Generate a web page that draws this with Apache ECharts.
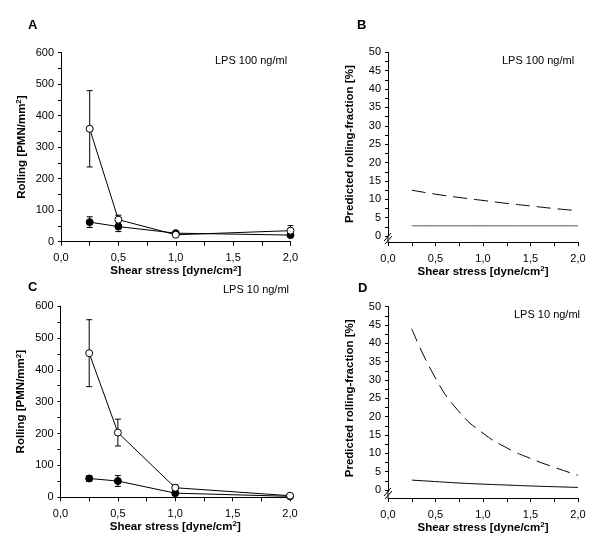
<!DOCTYPE html>
<html>
<head>
<meta charset="utf-8">
<script src="https://cdn.jsdelivr.net/npm/echarts@6/dist/echarts.min.js"></script>
<style>html,body{margin:0;padding:0;background:#fff}#c{width:600px;height:550px}</style>
</head>
<body>
<div id="c"></div>
<script>
// ---- data ----
var shear = [0.25, 0.5, 1.0, 2.0];
var A_open = [358, 70, 22, 35];
var A_openErr = [121, 14, 5, 16];
var A_filled = [62, 48, 27, 21];
var A_filledErr = [17, 16, 4, 4];
var C_open = [452, 203, 30, 5];
var C_openErr = [105, 42, 9, 3];
var C_filled = [59, 51, 13, 3];
var C_filledErr = [9, 17, 4, 2];

var predX = [0.25, 0.5, 0.75, 1.0, 1.25, 1.5, 1.75, 2.0];
var B_dash = [12.5, 11.4, 10.5, 9.7, 8.9, 8.2, 7.5, 6.9];
var B_solid = [2.8, 2.8, 2.8, 2.8, 2.8, 2.8, 2.8, 2.8];
var D_dash = [44, 30.5, 21.3, 15.5, 11.5, 8.6, 6.2, 4.0];
var D_solid = [2.7, 2.3, 1.9, 1.6, 1.35, 1.1, 0.9, 0.7];

var panelLetters = ['A', 'B', 'C', 'D'];
var lpsLabels = ['LPS 100 ng/ml', 'LPS 100 ng/ml', 'LPS 10 ng/ml', 'LPS 10 ng/ml'];
var xName = 'Shear stress [dyne/cm{sup|2}]';
var yNameRolling = 'Rolling [PMN/mm{sup|2}]';
var yNamePred = 'Predicted rolling-fraction [%]';

// ---- helpers ----
var FONT = "'Liberation Sans', Arial, sans-serif";
function zip(xs, ys) { return xs.map(function (x, i) { return [x, ys[i]]; }); }
function zip3(xs, ys, es) { return xs.map(function (x, i) { return [x, ys[i], es[i]]; }); }
var rich = { sup: { fontSize: 8, fontWeight: 'bold', verticalAlign: 'top', padding: [0, 0, 5, 0], fontFamily: FONT, color: '#000' } };

function xAxisDef(gi, offset) {
  return {
    type: 'value', gridIndex: gi, min: 0, max: 2, interval: 0.5, offset: offset || 0,
    name: xName, nameLocation: 'middle', nameGap: 22,
    nameTextStyle: { fontFamily: FONT, fontSize: 11.5, fontWeight: 'bold', color: '#000', rich: rich },
    axisLine: { show: true, onZero: false, lineStyle: { color: '#000', width: 1 } },
    axisTick: { show: true, length: 4, lineStyle: { color: '#000' } },
    minorTick: { show: true, splitNumber: 2, length: 4, lineStyle: { color: '#000' } },
    splitLine: { show: false }, minorSplitLine: { show: false },
    axisLabel: { fontFamily: FONT, fontSize: 11, color: '#000', margin: 11,
      formatter: function (v) { return v.toFixed(1).replace('.', ','); } }
  };
}
function yAxisDef(gi, max, interval, name, gap) {
  return {
    type: 'value', gridIndex: gi, min: 0, max: max, interval: interval,
    name: name, nameLocation: 'middle', nameGap: gap,
    nameTextStyle: { fontFamily: FONT, fontSize: 11.5, fontWeight: 'bold', color: '#000', rich: rich },
    axisLine: { show: true, lineStyle: { color: '#000', width: 1 } },
    axisTick: { show: true, length: 3, lineStyle: { color: '#000' } },
    minorTick: { show: true, splitNumber: 2, length: 3, lineStyle: { color: '#000' } },
    splitLine: { show: false }, minorSplitLine: { show: false },
    axisLabel: { fontFamily: FONT, fontSize: 11, color: '#000', margin: 7 }
  };
}
function errSeries(gi, data) {
  return {
    type: 'custom', xAxisIndex: gi, yAxisIndex: gi, z: 1, data: data, silent: true,
    renderItem: function (params, api) {
      var x = api.value(0), m = api.value(1), e = api.value(2);
      var t = api.coord([x, m + e]), b = api.coord([x, m - e]);
      var w = 3, st = { stroke: '#000', lineWidth: 1 };
      return { type: 'group', children: [
        { type: 'line', shape: { x1: t[0], y1: t[1], x2: b[0], y2: b[1] }, style: st },
        { type: 'line', shape: { x1: t[0] - w, y1: t[1], x2: t[0] + w, y2: t[1] }, style: st },
        { type: 'line', shape: { x1: b[0] - w, y1: b[1], x2: b[0] + w, y2: b[1] }, style: st }
      ] };
    }
  };
}
function markSeries(gi, data, open) {
  return {
    type: 'line', xAxisIndex: gi, yAxisIndex: gi, z: 3, data: data,
    symbol: 'circle', symbolSize: 7, showSymbol: true,
    lineStyle: { color: '#000', width: 1 },
    itemStyle: { color: open ? '#fff' : '#000', borderColor: '#000', borderWidth: 1 },
    emphasis: { disabled: true }, animation: false
  };
}
function curveSeries(gi, data, dashed, color) {
  return {
    type: 'line', xAxisIndex: gi, yAxisIndex: gi, data: data, smooth: true,
    symbol: 'none', lineStyle: { color: color || '#000', width: 1, type: dashed ? [14, 7] : 'solid' },
    animation: false
  };
}

var titles = [];
var letterPos = [[28, 19], [357, 19], [28, 281], [358, 282]];
var lpsPos = [[215, 55], [502, 55], [223, 284], [514, 309]];
for (var i = 0; i < 4; i++) {
  titles.push({ text: panelLetters[i], left: letterPos[i][0], top: letterPos[i][1], padding: 0,
    textStyle: { fontFamily: FONT, fontSize: 13, fontWeight: 'bold', color: '#000' } });
  titles.push({ text: lpsLabels[i], left: lpsPos[i][0], top: lpsPos[i][1], padding: 0,
    textStyle: { fontFamily: FONT, fontSize: 11, fontWeight: 'normal', color: '#000' } });
}

var option = {
  backgroundColor: '#fff',
  animation: false,
  title: titles,
  grid: [
    { left: 61, top: 52.5, width: 229.5, height: 189.2 },
    { left: 388, top: 52.3, width: 190, height: 183.8 },
    { left: 60.5, top: 306, width: 229.5, height: 191.3 },
    { left: 388, top: 306.7, width: 190, height: 183.3 }
  ],
  xAxis: [xAxisDef(0, 0), xAxisDef(1, 6), xAxisDef(2, 0), xAxisDef(3, 8)],
  yAxis: [
    yAxisDef(0, 600, 100, yNameRolling, 33),
    yAxisDef(1, 50, 5, yNamePred, 32),
    yAxisDef(2, 600, 100, yNameRolling, 33),
    yAxisDef(3, 50, 5, yNamePred, 32)
  ],
  series: [
    errSeries(0, zip3(shear, A_open, A_openErr)),
    errSeries(0, zip3(shear, A_filled, A_filledErr)),
    markSeries(0, zip(shear, A_filled), false),
    markSeries(0, zip(shear, A_open), true),
    curveSeries(1, zip(predX, B_dash), true),
    curveSeries(1, zip(predX, B_solid), false, '#555'),
    errSeries(2, zip3(shear, C_open, C_openErr)),
    errSeries(2, zip3(shear, C_filled, C_filledErr)),
    markSeries(2, zip(shear, C_filled), false),
    markSeries(2, zip(shear, C_open), true),
    curveSeries(3, zip(predX, D_dash), true),
    curveSeries(3, zip(predX, D_solid), false)
  ]
};

var chart = echarts.init(document.getElementById('c'), null, { renderer: 'canvas' });
chart.setOption(option);

// axis-break marks on the broken y axes of B and D
var g = [];
[[1, 6], [3, 8]].forEach(function (p) {
  var gi = p[0], off = p[1];
  var z = chart.convertToPixel({ gridIndex: gi }, [0, 0]);
  var x = z[0], y0 = z[1], yA = y0 + off;
  var st = { stroke: '#000', lineWidth: 1 };
  var ym = (y0 + yA) / 2;
  g.push({ type: 'line', shape: { x1: x, y1: y0, x2: x, y2: yA }, style: st });
  g.push({ type: 'line', shape: { x1: x - 4, y1: ym + 2, x2: x + 3, y2: ym - 6 }, style: st });
  g.push({ type: 'line', shape: { x1: x - 3, y1: ym + 5, x2: x + 4, y2: ym - 3 }, style: st });
});
chart.setOption({ graphic: g });
</script>
</body>
</html>
